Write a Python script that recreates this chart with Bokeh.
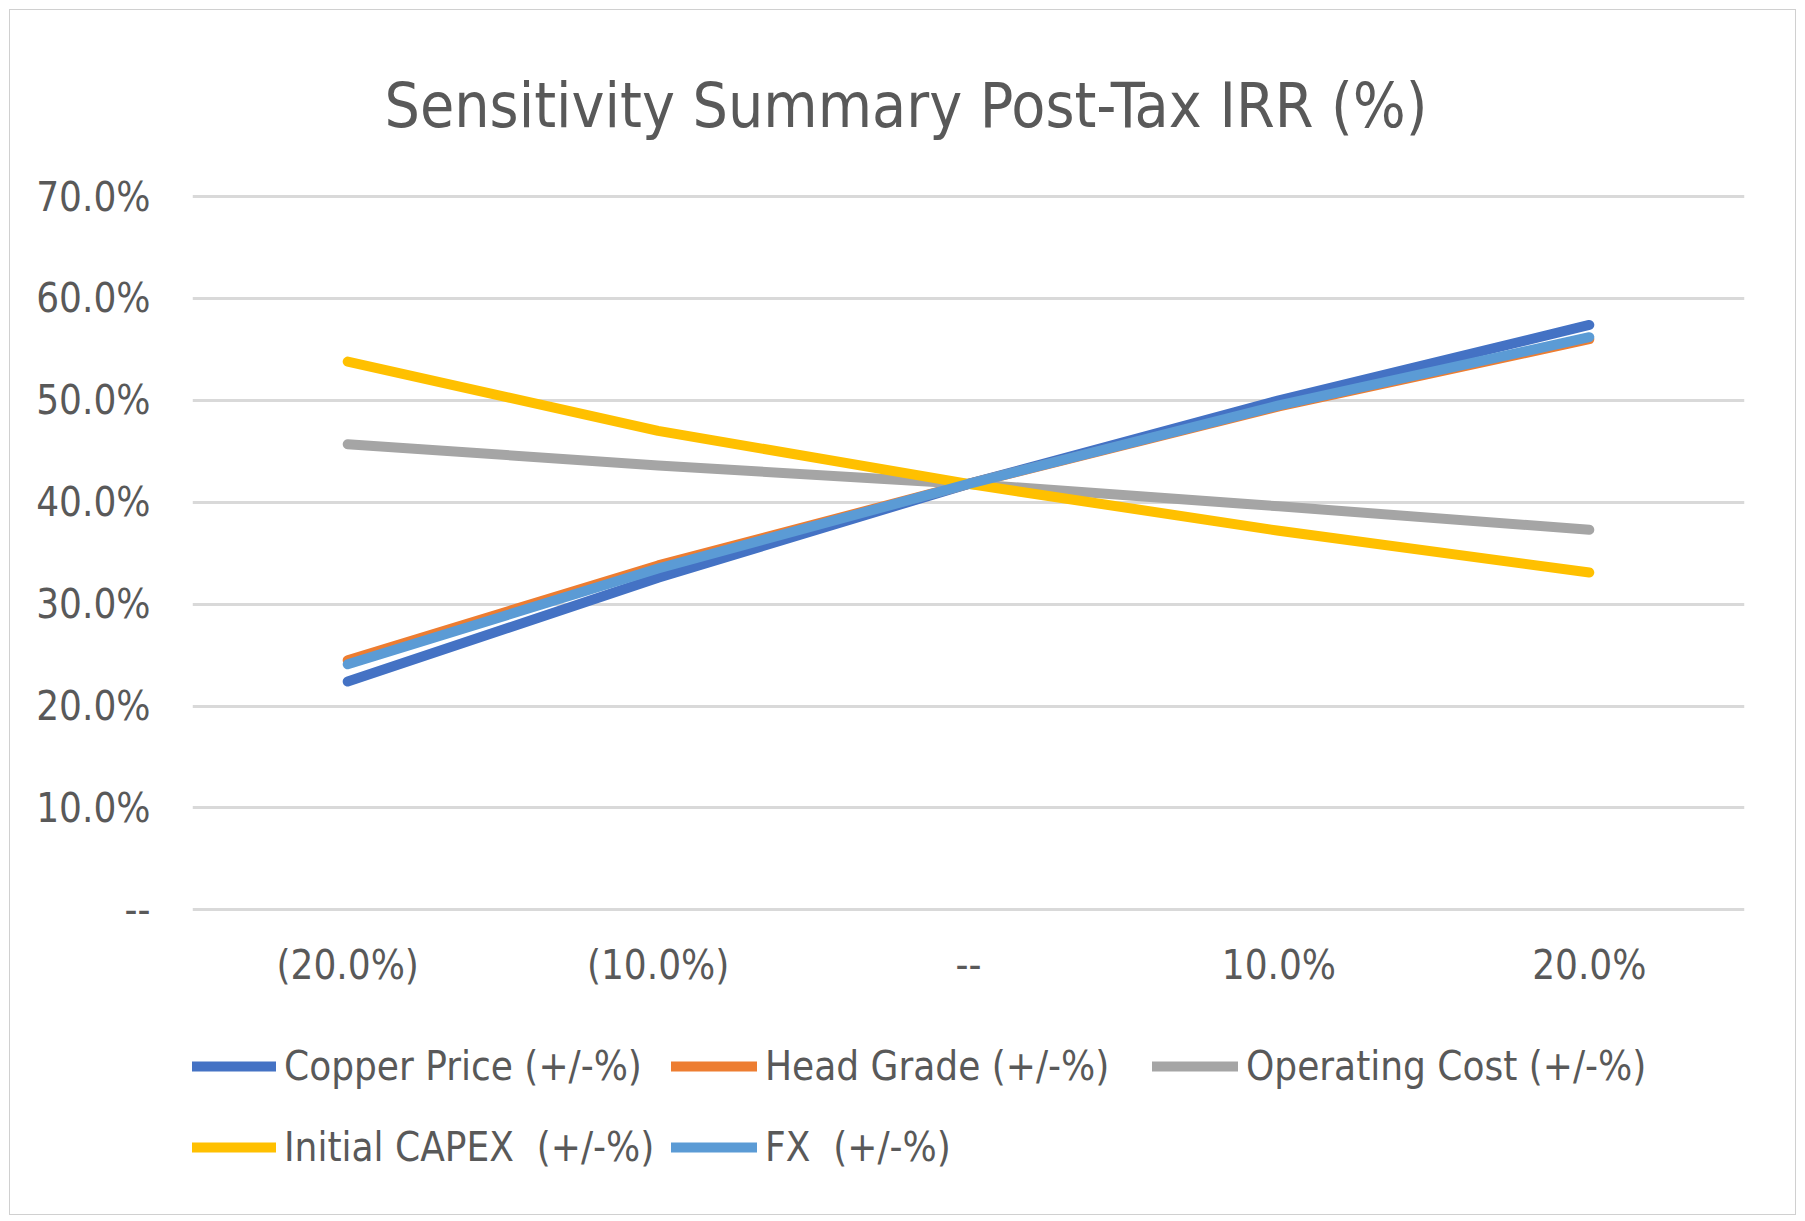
from bokeh.plotting import figure
from bokeh.models import (ColumnDataSource, FactorRange, Range1d, FixedTicker,
                          CustomJSTickFormatter, Legend, LegendItem, Title)
from bokeh.embed import file_html
from bokeh.resources import INLINE

# ---- data ----
categories = ["(20.0%)", "(10.0%)", "--", "10.0%", "20.0%"]
copper_price = [22.4, 32.6, 41.8, 50.0, 57.4]
head_grade = [24.5, 33.8, 41.8, 49.4, 56.0]
operating_cost = [45.7, 43.6, 41.8, 39.6, 37.3]
initial_capex = [53.8, 47.0, 41.8, 37.2, 33.1]
fx = [24.1, 33.5, 41.8, 49.5, 56.2]
series_names = ["Copper Price (+/-%)", "Head Grade (+/-%)", "Operating Cost (+/-%)",
                "Initial CAPEX  (+/-%)", "FX  (+/-%)"]
series_colors = ["#4472C4", "#ED7D31", "#A5A5A5", "#FFC000", "#5B9BD5"]
y_ticks = [0, 10, 20, 30, 40, 50, 60, 70]

FONT = "DejaVu Sans Condensed"
TXT = "#595959"

# frame spans the plot area plus the legend strip below it; the value axis
# keeps its 0..70 gridlines, the category axis is pinned below the 0 line.
p = figure(x_range=FactorRange(*categories), y_range=Range1d(-28.52, 70.2),
           frame_width=1552, frame_height=1006,
           output_backend="svg", toolbar_location=None,
           min_border_left=182, min_border_right=51, min_border_top=184,
           min_border_bottom=14, title=None)
p.margin = (9, 0, 0, 9)
p.styles = {"border": "1px solid #d0d0d0"}
p.outline_line_color = None
p.background_fill_color = "white"
p.border_fill_color = "white"

title = Title(text="Sensitivity Summary Post-Tax IRR (%)", align="left",
              offset=192, standoff=105, text_font=FONT, text_font_size="62px",
              text_font_style="normal", text_color=TXT)
p.add_layout(title, "above")

# value axis
p.yaxis.ticker = FixedTicker(ticks=y_ticks)
p.yaxis.formatter = CustomJSTickFormatter(
    code='return tick == 0 ? "--" : tick.toFixed(1) + "%";')
p.yaxis.axis_line_color = None
p.yaxis.major_tick_line_color = None
p.yaxis.minor_tick_line_color = None
p.yaxis.major_label_standoff = 36
p.yaxis.major_label_text_font = FONT
p.yaxis.major_label_text_font_size = "40px"
p.yaxis.major_label_text_color = TXT

# category axis
p.xaxis.fixed_location = -7.1
p.xaxis.axis_line_color = None
p.xaxis.major_tick_line_color = None
p.xaxis.minor_tick_line_color = None
p.xaxis.major_tick_out = 0
p.xaxis.major_tick_in = 0
p.xaxis.major_label_standoff = -40
p.xaxis.major_label_text_font = FONT
p.xaxis.major_label_text_font_size = "40px"
p.xaxis.major_label_text_color = TXT

p.xgrid.grid_line_color = None
p.ygrid.ticker = FixedTicker(ticks=y_ticks)
p.ygrid.grid_line_color = "#d9d9d9"
p.ygrid.grid_line_width = 3

items = []
for name, vals, col in zip(series_names,
                           [copper_price, head_grade, operating_cost, initial_capex, fx],
                           series_colors):
    src = ColumnDataSource(dict(x=categories, y=vals))
    r = p.line("x", "y", source=src, line_color=col, line_width=10,
               line_cap="round", line_join="round")
    items.append(LegendItem(label=name, renderers=[r]))

legend = Legend(items=items, orientation="horizontal", ncols=3,
                location=(-2, 13), glyph_width=86, glyph_height=40,
                label_width=387, label_height=81, label_standoff=8,
                spacing=0, padding=0, margin=0,
                border_line_color=None, background_fill_alpha=0,
                label_text_font=FONT, label_text_font_size="40px",
                label_text_color=TXT)
p.add_layout(legend, "center")

open("out.html", "w").write(file_html(p, INLINE))
